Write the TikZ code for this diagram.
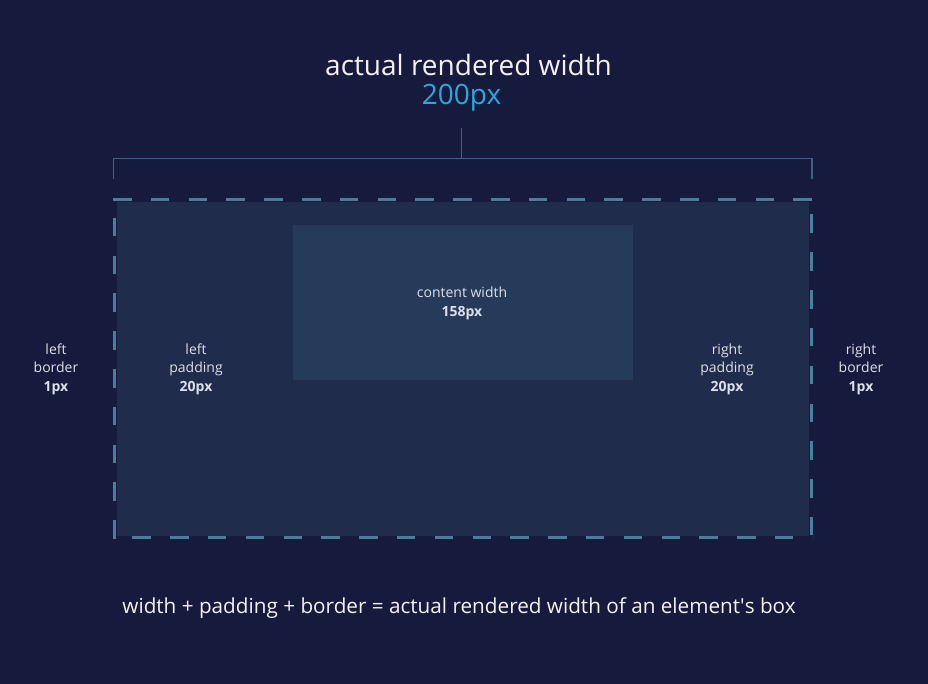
\documentclass[tikz,border=0pt]{standalone}
\usepackage{fontspec}
\setmainfont{Open Sans}
\definecolor{bg}{HTML}{161A3C}
\definecolor{padfill}{HTML}{1F2C4B}
\definecolor{contfill}{HTML}{263A59}
\definecolor{dashc}{HTML}{4B7E99}
\definecolor{brack}{HTML}{3B6483}
\definecolor{bluetxt}{HTML}{2AA9DC}
\definecolor{maintxt}{HTML}{F2F2F4}
\definecolor{smalltxt}{HTML}{DCE0E8}
\tikzset{
  lbl/.style={text=smalltxt, align=center, font=\fontsize{14}{18.5}\selectfont, inner sep=0pt},
  borderline/.style={draw=dashc, line width=3pt, dash pattern=on 18.5pt off 19.3pt},
  bracketline/.style={draw=brack, line width=1.2pt}
}
\begin{document}
\begin{tikzpicture}[x=1pt,y=-1pt]
\useasboundingbox (0,0) rectangle (928,684);
\fill[bg] (0,0) rectangle (928,684);
% padding area and content
\fill[padfill] (116.7,201.7) rectangle (809,535.5);
\node[fill=contfill, minimum width=340pt, minimum height=155pt, inner sep=0pt, anchor=north west] (content) at (293,225) {};
% dashed border
\coordinate (tl) at (113,200);
\coordinate (tr) at (812.7,200);
\coordinate (ltop) at (114.6,198.5);
\coordinate (lbot) at (114.6,539);
\coordinate (rtop) at (811.1,198.5);
\coordinate (rbot) at (811.1,539);
\coordinate (bl) at (113,537.5);
\coordinate (br) at (812.7,537.5);
\draw[borderline] (tl) -- (tr);
\draw[borderline, dash phase=18.5pt] (ltop) -- (lbot);
\draw[borderline, dash phase=21.8pt] (rtop) -- (rbot);
\draw[borderline, dash phase=18.5pt] (bl) -- (br);
% bracket
\coordinate (b1) at (113.5,179);
\coordinate (b2) at (113.5,158.5);
\coordinate (b3) at (812,158.5);
\coordinate (b4) at (812,179);
\coordinate (bm) at (461.5,158.5);
\coordinate (bt) at (461.5,128);
\draw[bracketline] (b1) -- (b2) -- (b3) -- (b4);
\draw[bracketline] (bm) -- (bt);
% title
\node[text=maintxt, font=\fontsize{28}{31}\selectfont, inner sep=0pt] (title) at (468.5,65) {actual rendered width};
\node[text=bluetxt, font=\fontsize{28}{31}\selectfont, inner sep=0pt] (val) at (461.5,98) {200px};
% labels
\node[lbl] (lb) at (56,369) {left\\border\\\textbf{1px}};
\node[lbl] (lp) at (196,369) {left\\padding\\\textbf{20px}};
\node[lbl] (cw) at (462,303.5) {content width\\\textbf{158px}};
\node[lbl] (rp) at (727,369) {right\\padding\\\textbf{20px}};
\node[lbl] (rb) at (861,369) {right\\border\\\textbf{1px}};
% bottom line
\node[text=maintxt, font=\fontsize{20.7}{23}\selectfont, inner sep=0pt] (eq) at (459,608) {width + padding + border = actual rendered width of an element\textquotesingle s box};
\end{tikzpicture}
\end{document}
